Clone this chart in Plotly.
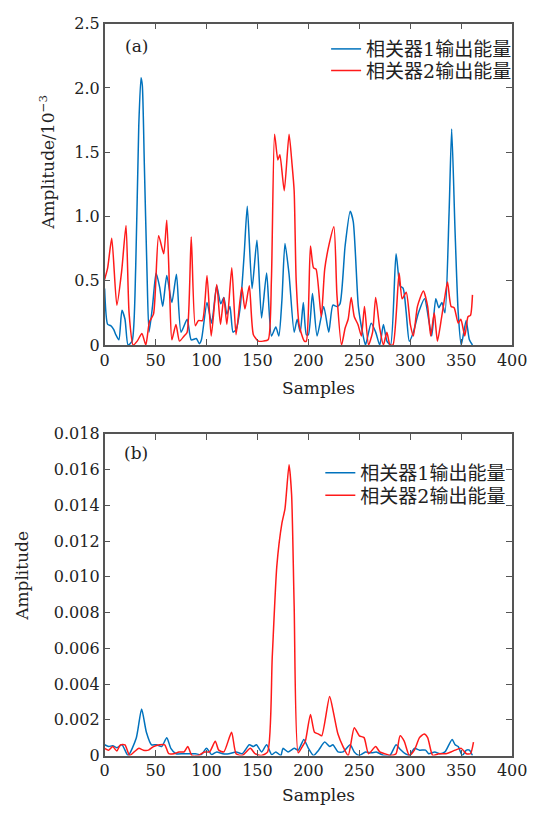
import plotly.graph_objects as go

# ---- panel (a): amplitudes in units of 1e-3 ----
a_blue_x = [0, 3, 6, 9, 11, 14, 17, 20, 23, 27, 30.5, 33.5, 35.7, 37, 39, 41.5, 43.6, 47, 50.5, 54, 57, 61,
            66, 70.5, 75, 81, 85, 90, 93, 95, 100.5, 105, 110, 114, 117, 120, 123, 126, 129, 133, 137, 140,
            144.7, 149.5, 154, 159, 163.7, 168, 171, 174, 177, 181, 186, 189, 192, 195, 198, 200, 204, 208.5,
            215, 220, 224, 228, 231, 236, 241, 244, 249, 253, 256, 261.6, 266, 270, 273.6, 277, 280.6, 286,
            290, 293, 296, 299, 303, 308, 314, 318, 321, 325, 328, 331, 334, 338, 340.6, 343.8, 347, 350,
            354.8, 358, 361]
a_blue_y = [0.44, 0.16, 0.15, 0.12, 0.08, 0.04, 0.27, 0.2, 0.0, 0.03, 0.6, 1.7, 2.08, 2.02, 1.4, 0.6, 0.1, 0.3,
            0.56, 0.45, 0.3, 0.54, 0.33, 0.55, 0.1, 0.2, 0.04, 0.05, 0.01, 0.04, 0.33, 0.17, 0.46, 0.32, 0.37,
            0.24, 0.3, 0.1, 0.12, 0.29, 0.71, 1.08, 0.44, 0.815, 0.21, 0.56, 0.07, 0.14, 0.07, 0.35, 0.79, 0.55,
            0.1, 0.2, 0.1, 0.33, 0.08, 0.08, 0.4, 0.07, 0.3, 0.1, 0.31, 0.3, 0.32, 0.77, 1.04, 0.96, 0.3, 0.1,
            0.0, 0.17, 0.1, 0.0, 0.16, 0.03, 0.0, 0.71, 0.46, 0.44, 0.25, 0.03, 0.1, 0.25, 0.36, 0.2, 0.07,
            0.36, 0.29, 0.33, 0.25, 1.02, 1.68, 0.91, 0.25, 0.0, 0.19, 0.04, 0.0]

a_red_x = [0, 3, 7, 12, 16.8, 21, 24, 28, 32, 36.6, 40.4, 44, 48, 53, 58, 61, 64, 66, 70, 73.5, 78, 81, 85, 89,
           92, 96, 100.5, 104.6, 110, 113.7, 117, 120, 124.8, 129, 134.6, 137.7, 142, 146, 151, 155.6, 160.5,
           163.7, 166.8, 170, 172, 176.3, 181, 184, 186, 188, 191, 196, 198, 202, 205, 207.5, 212.6, 216, 220.5,
           225, 228, 232.5, 236, 239, 242, 245, 248.6, 252, 255, 259, 263, 266, 270, 273.6, 277, 280, 283,
           289, 292, 296, 300, 303, 307, 312.8, 317, 320, 323.5, 326.6, 330.6, 333.6, 336.5, 340, 343, 347,
           349.6, 353.5, 356.6, 359, 361]
a_red_y = [0.51, 0.6, 0.83, 0.31, 0.58, 0.93, 0.25, 0.0, 0.03, 0.09, 0.0, 0.18, 0.24, 0.85, 0.71, 0.97, 0.36,
           0.04, 0.16, 0.03, 0.07, 0.1, 0.84, 0.15, 0.19, 0.19, 0.54, 0.07, 0.47, 0.16, 0.37, 0.16, 0.6, 0.08,
           0.45, 0.28, 0.46, 0.08, 0.03, 0.03, 0.04, 0.51, 1.64, 1.44, 1.48, 1.2, 1.64, 1.4, 1.2, 0.5, 0.15,
           0.03, 0.03, 0.77, 0.6, 0.59, 0.22, 0.59, 0.79, 0.92, 0.39, 0.0, 0.13, 0.2, 0.37, 0.22, 0.16, 0.07,
           0.3, 0.0, 0.1, 0.37, 0.13, 0.0, 0.1, 0.0, 0.0, 0.56, 0.36, 0.41, 0.16, 0.07, 0.3, 0.42, 0.3, 0.07,
           0.25, 0.03, 0.21, 0.36, 0.49, 0.3, 0.29, 0.17, 0.2, 0.07, 0.22, 0.23, 0.39]

# ---- panel (b): amplitudes in units of 1e-3, scaled when plotted ----
b_blue_x = [0, 4, 8, 12, 17, 23, 31, 36.3, 41, 46, 51, 56, 61, 65, 70, 77, 83, 89, 95, 100, 105, 110, 116, 122,
            129, 135, 142, 146, 149, 154, 159, 164, 168, 173, 175, 180, 186, 190, 195.5, 200, 205, 210, 216,
            221, 224, 229, 234, 241, 245, 250, 256, 262, 266.5, 274, 280, 286, 290, 295, 299, 304, 309, 315,
            318, 324, 329, 334, 341, 344, 347, 351, 355, 358, 361]
b_blue_y = [0.6, 0.5, 0.55, 0.44, 0.6, 0.0, 0.96, 2.6, 1.3, 0.6, 0.6, 0.5, 1.0, 0.4, 0.1, 0.1, 0.1, 0.1, 0.05,
            0.4, 0.05, 0.2, 0.1, 0.1, 0.2, 0.1, 0.6, 0.5, 0.6, 0.2, 0.6, 0.05, 0.2, 0.0, 0.4, 0.2, 0.4, 0.3,
            0.9, 0.4, 0.0, 0.3, 0.75, 0.5, 0.6, 0.2, 0.2, 0.6, 0.2, 0.0, 0.2, 0.15, 0.2, 0.0, 0.0, 0.6, 0.35,
            0.1, 0.0, 0.4, 0.3, 0.3, 0.1, 0.2, 0.1, 0.2, 0.9, 0.6, 0.5, 0.0, 0.3, 0.3, 0.0]

b_red_x = [0, 4, 8, 12, 15.5, 20, 24.5, 29, 33.6, 38, 43, 48, 54, 59, 63, 68, 73, 78, 81.6, 85.7, 92, 98, 103,
           108.6, 112, 117, 124.6, 129, 135, 143, 147.6, 154, 160, 164.5, 169, 174, 177, 181, 183.5, 186, 190,
           194, 197, 202, 206, 210, 213, 220.8, 224.6, 229, 234, 239, 245, 250, 254.6, 259, 266, 270, 275,
           281, 286, 290, 294, 299, 304, 309, 313.6, 317, 322, 328, 335, 340, 344, 350, 355, 359, 362]
b_red_y = [0.4, 0.3, 0.5, 0.25, 0.6, 0.6, 0.0, 0.2, 0.4, 0.3, 0.3, 0.5, 0.6, 0.6, 0.1, 0.1, 0.2, 0.2, 0.5, 0.0,
           0.0, 0.2, 0.2, 0.8, 0.3, 0.2, 1.3, 0.1, 0.0, 0.4, 0.1, 0.0, 0.2, 5.5, 10.6, 13.0, 13.8, 16.27, 14.6,
           8.4, 0.15, 0.5, 0.8, 2.3, 1.3, 1.2, 1.1, 3.3, 2.4, 1.2, 0.5, 0.0, 1.55, 1.1, 1.0, 0.1, 0.5, 0.2,
           0.1, 0.0, 0.1, 1.1, 0.8, 0.0, 0.3, 1.0, 1.2, 1.0, 0.0, 0.1, 0.1, 0.2, 0.3, 0.4, 0.1, 0.1, 0.75]

series_names = ["相关器1输出能量", "相关器2输出能量"]
x_ticks = [0, 50, 100, 150, 200, 250, 300, 350, 400]
a_ticks = [0, 0.5, 1.0, 1.5, 2.0, 2.5]
a_ticktext = ["0", "0.5", "1.0", "1.5", "2.0", "2.5"]
b_ticks = [0, 0.002, 0.004, 0.006, 0.008, 0.010, 0.012, 0.014, 0.016, 0.018]
b_ticktext = ["0", "0.002", "0.004", "0.006", "0.008", "0.010", "0.012", "0.014", "0.016", "0.018"]

BLUE = "#0072BD"
RED = "#FF1A1A"
AXC = "#555555"
TXT = "#222222"
FONT = "DejaVu Serif, Noto Sans CJK SC, serif"

W, H = 560, 816
def px_x(p):
    return p / W
def px_y(p):
    return 1 - p / H

fig = go.Figure()
line_style = dict(shape="spline", smoothing=0.6, width=1.5)

# one legend box per entry so each row sits where it belongs
fig.add_trace(go.Scatter(x=a_blue_x, y=a_blue_y, mode="lines", name=series_names[0],
                         line=dict(color=BLUE, **line_style), xaxis="x", yaxis="y", legend="legend"))
fig.add_trace(go.Scatter(x=a_red_x, y=a_red_y, mode="lines", name=series_names[1],
                         line=dict(color=RED, **line_style), xaxis="x", yaxis="y", legend="legend2"))
fig.add_trace(go.Scatter(x=b_blue_x, y=[v * 1e-3 for v in b_blue_y], mode="lines", name=series_names[0],
                         line=dict(color=BLUE, **line_style), xaxis="x2", yaxis="y2", legend="legend3"))
fig.add_trace(go.Scatter(x=b_red_x, y=[v * 1e-3 for v in b_red_y], mode="lines", name=series_names[1],
                         line=dict(color=RED, **line_style), xaxis="x2", yaxis="y2", legend="legend4"))

x_dom = [px_x(103.3), px_x(526)]
axis_common = dict(showline=True, linecolor=AXC, linewidth=1.5, mirror="ticks", ticks="inside",
                   ticklen=6, tickcolor=AXC, tickwidth=1.2, showgrid=False, zeroline=False,
                   tickfont=dict(family=FONT, size=16, color=TXT))

def leg(x, y):
    return dict(x=px_x(x), y=px_y(y), xanchor="left", yanchor="middle", bgcolor="rgba(0,0,0,0)",
                font=dict(family=FONT, size=19, color=TXT), borderwidth=0)

fig.update_layout(
    width=W, height=H,
    margin=dict(l=0, r=0, t=0, b=0),
    paper_bgcolor="white", plot_bgcolor="white",
    font=dict(family=FONT, color=TXT),
    xaxis=dict(domain=x_dom, range=[0, 400], tickvals=x_ticks, anchor="y", **axis_common),
    yaxis=dict(domain=[px_y(344), px_y(15)], range=[0, 2.5], tickvals=a_ticks, ticktext=a_ticktext,
               anchor="x", **axis_common),
    xaxis2=dict(domain=x_dom, range=[0, 400], tickvals=x_ticks, anchor="y2", **axis_common),
    yaxis2=dict(domain=[px_y(764.3), px_y(435)], range=[0, 0.018], tickvals=b_ticks, ticktext=b_ticktext,
                anchor="x2", **axis_common),
    legend=leg(333, 41),
    legend2=leg(333, 63),
    legend3=leg(327, 475),
    legend4=leg(327, 498),
    showlegend=True,
)

def note(text, x, y, size=17, angle=0):
    fig.add_annotation(text=text, x=px_x(x), y=px_y(y), xref="paper", yref="paper",
                       showarrow=False, textangle=angle, xanchor="center", yanchor="middle",
                       font=dict(family=FONT, size=size, color=TXT))

note("(a)", 136, 38)
note("(b)", 136, 455)
note("Samples", 325, 388)
note("Samples", 325, 805)
note("Amplitude/10<sup>−3</sup>", 44, 157, angle=-90)
note("Amplitude", 18, 580, angle=-90)

fig.write_html("out.html")
